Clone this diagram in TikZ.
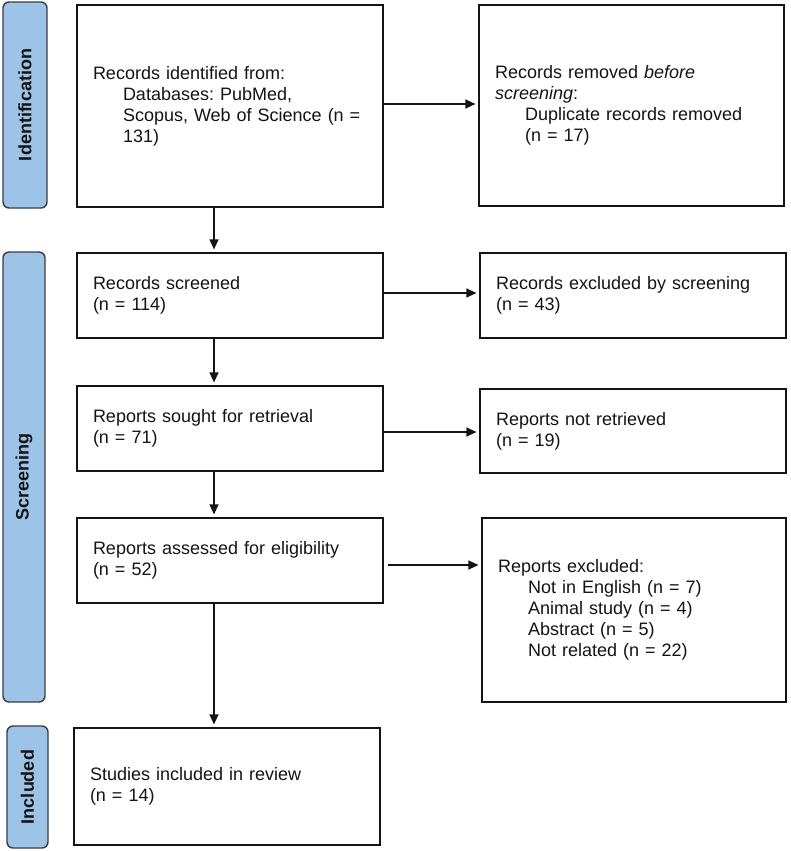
\documentclass[tikz,border=0pt]{standalone}
\usepackage{fontspec}
\setmainfont{Liberation Sans}
\usetikzlibrary{arrows.meta}
\definecolor{barblue}{RGB}{157,195,230}
\definecolor{bardraw}{RGB}{55,62,70}
\definecolor{ink}{RGB}{20,20,20}
\tikzset{
  box/.style={draw=ink, line width=1.2pt, fill=white, align=left, inner xsep=16pt, inner ysep=0pt,
    font=\fontsize{18}{21}\selectfont\frenchspacing, text=ink},
  phasebar/.style={draw=bardraw, line width=1.4pt, fill=barblue, rounded corners=6pt, rotate=90,
    font=\fontsize{18}{21}\selectfont\bfseries, text=ink, inner sep=0pt},
  flow/.style={draw=ink, line width=1.2pt, -{Triangle[length=10pt,width=9pt]}, shorten >=3pt}
}
\newcommand{\ind}{\hspace*{30pt}}
\frenchspacing
\begin{document}
\begin{tikzpicture}[x=1pt,y=-1pt]
\useasboundingbox (0,0) rectangle (790,851);
% phase bars
\node[phasebar, minimum width=206pt, minimum height=44pt] (idb) at (25,105) {Identification};
\node[phasebar, minimum width=450pt, minimum height=42pt] (scb) at (24,477) {Screening};
\node[phasebar, minimum width=122pt, minimum height=41pt] (inb) at (27.5,787) {Included};
% boxes
\node[box, text width=274pt, minimum height=202pt] (b1) at (230,106)
  {Records identified from:\\\ind Databases: PubMed,\\\ind Scopus, Web of Science (n =\\\ind 131)};
\node[box, text width=273pt, minimum height=201pt] (b2) at (631.5,105.5)
  {Records removed \textit{before}\\\textit{screening}:\\\ind Duplicate records removed\\\ind (n = 17)};
\node[box, text width=274pt, minimum height=85pt] (b3) at (230,295.5)
  {Records screened\\(n = 114)};
\node[box, text width=274pt, minimum height=85pt] (b4) at (633,295.5)
  {Records excluded by screening\\(n = 43)};
\node[box, text width=274pt, minimum height=85pt] (b5) at (230,428.5)
  {Reports sought for retrieval\\(n = 71)};
\node[box, text width=274pt, minimum height=84pt] (b6) at (633,431)
  {Reports not retrieved\\(n = 19)};
\node[box, text width=274pt, minimum height=85pt] (b7) at (230,560.5)
  {Reports assessed for eligibility\\(n = 52)};
\node[box, text width=272pt, minimum height=184pt] (b8) at (634,610)
  {Reports excluded:\\\ind Not in English (n = 7)\\\ind Animal study (n = 4)\\\ind Abstract (n = 5)\\\ind Not related (n = 22)};
\node[box, text width=274pt, minimum height=117pt] (b9) at (227,786.5)
  {Studies included in review\\(n = 14)};
% vertical arrows
\draw[flow] (b1.south -| 214,0) -- (b3.north -| 214,0);
\draw[flow] (b3.south -| 214,0) -- (b5.north -| 214,0);
\draw[flow] (b5.south -| 214,0) -- (b7.north -| 214,0);
\draw[flow] (b7.south -| 214,0) -- (b9.north -| 214,0);
% horizontal arrows
\draw[flow] (b1.east |- 0,104) -- (b2.west |- 0,104);
\draw[flow] (b3.east |- 0,293) -- (b4.west |- 0,293);
\draw[flow] (b5.east |- 0,432) -- (b6.west |- 0,432);
\draw[flow, shorten <=4pt] (b7.east |- 0,565) -- (b8.west |- 0,565);
\end{tikzpicture}
\end{document}
